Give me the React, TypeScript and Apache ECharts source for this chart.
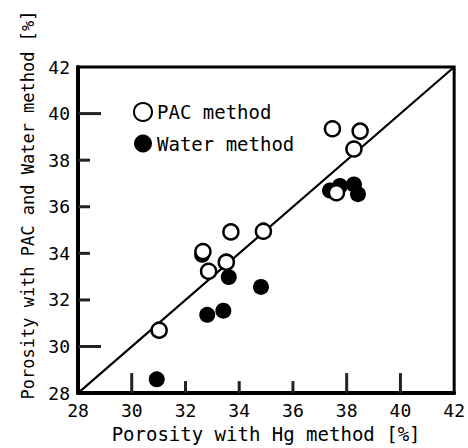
import React, { useEffect, useRef } from "react";
import * as echarts from "echarts";

const pacX = [31.02, 32.65, 32.86, 33.52, 33.69, 34.9, 37.47, 38.5, 38.27, 37.62];
const pacY = [30.7, 34.08, 33.23, 33.62, 34.92, 34.95, 39.35, 39.25, 38.48, 36.6];
const waterX = [30.93, 32.62, 32.81, 33.41, 33.61, 34.81, 37.38, 37.75, 38.27, 38.42];
const waterY = [28.59, 33.94, 31.36, 31.54, 32.98, 32.56, 36.7, 36.89, 36.96, 36.54];
const diagonal = [28, 42];
const shortXTicks = [32, 34, 36];
const longXTicks = [30, 38, 40];
const shortYTicks = [32, 34, 36, 38];
const longYTicks = [30, 40];

const FONT = "'DejaVu Sans Mono', monospace";
const TICK = "#222222";

export default function App() {
  const ref = useRef<HTMLDivElement>(null);
  useEffect(() => {
    if (!ref.current) return;
    const chart = echarts.init(ref.current, undefined, { renderer: "svg" });
    const pac = pacX.map((x, i) => [x, pacY[i]]);
    const water = waterX.map((x, i) => [x, waterY[i]]);
    const axisBase = { type: "value", min: 28, max: 42, interval: 2, splitLine: { show: false } };
    const option: any = {
      animation: false,
      backgroundColor: "#fff",
      grid: { left: 78, right: 8, top: 67, bottom: 48, show: true, borderColor: "#000", borderWidth: 3 },
      legend: {
        orient: "vertical",
        left: 128,
        top: 97,
        itemWidth: 18,
        itemHeight: 18,
        itemGap: 12,
        data: ["PAC method", "Water method"],
        textStyle: { fontFamily: FONT, fontSize: 19, color: "#000" },
      },
      xAxis: {
        ...axisBase,
        name: "Porosity with Hg method [%]",
        nameLocation: "middle",
        nameGap: 28,
        nameTextStyle: { fontFamily: FONT, fontSize: 19, color: "#000" },
        axisLine: { show: true, lineStyle: { color: "#000", width: 4 } },
        axisTick: { show: false },
        axisLabel: { fontFamily: FONT, fontSize: 18, color: "#000", margin: 8 },
      },
      yAxis: {
        ...axisBase,
        axisLine: { show: true, lineStyle: { color: "#000", width: 4 } },
        axisTick: { show: false },
        axisLabel: { fontFamily: FONT, fontSize: 18, color: "#000", margin: 8 },
      },
      series: [
        {
          type: "line",
          data: diagonal.map((v) => [v, v]),
          symbol: "none",
          lineStyle: { color: "#000", width: 2.2 },
          z: 1,
        },
        {
          name: "Water method",
          type: "scatter",
          data: water,
          symbol: "circle",
          symbolSize: 16,
          itemStyle: { color: "#000", opacity: 1 },
          z: 2,
        },
        {
          name: "PAC method",
          type: "scatter",
          data: pac,
          symbol: "circle",
          symbolSize: 15,
          itemStyle: { color: "#fff", borderColor: "#000", borderWidth: 2.5, opacity: 1 },
          z: 3,
        },
      ],
    };
    chart.setOption(option);
    const graphics: any[] = [
      {
        type: "text",
        x: 28,
        y: 205,
        rotation: Math.PI / 2,
        style: {
          text: "Porosity with PAC and Water method [%]",
          font: `17px ${FONT}`,
          fill: "#000",
          textAlign: "center",
          textVerticalAlign: "middle",
        },
      },
    ];
    const addX = (vals: number[], len: number) =>
      vals.forEach((v) => {
        const p = chart.convertToPixel({ xAxisIndex: 0, yAxisIndex: 0 }, [v, 28]) as number[];
        graphics.push({ type: "rect", zlevel: 1, z: 100, shape: { x: p[0] - 1.5, y: p[1] - len, width: 3, height: len }, style: { fill: TICK } });
      });
    const addY = (vals: number[], len: number) =>
      vals.forEach((v) => {
        const p = chart.convertToPixel({ xAxisIndex: 0, yAxisIndex: 0 }, [28, v]) as number[];
        graphics.push({ type: "rect", zlevel: 1, z: 100, shape: { x: p[0], y: p[1] - 1.5, width: len, height: 3 }, style: { fill: TICK } });
      });
    addX(shortXTicks, 12);
    addX(longXTicks, 20);
    addY(shortYTicks, 12);
    addY(longYTicks, 23);
    chart.setOption({ graphic: graphics });
    return () => chart.dispose();
  }, []);
  return <div ref={ref} style={{ position: "absolute", left: 0, top: 0, width: 468, height: 448 }} />;
}
